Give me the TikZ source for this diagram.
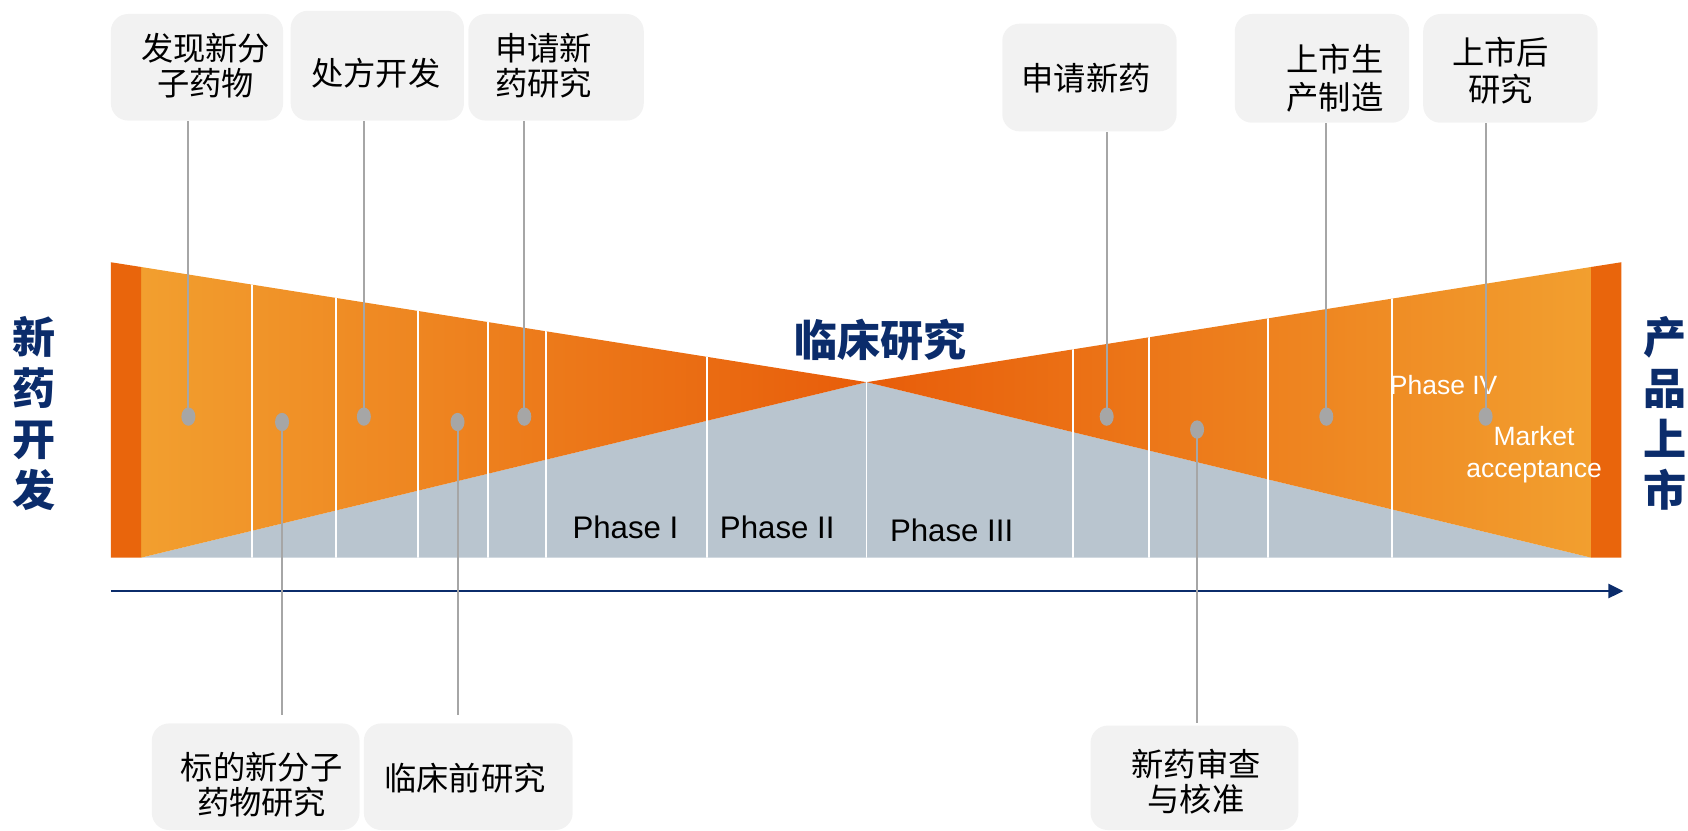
\documentclass[tikz,border=0pt]{standalone}
\usepackage{fontspec}
\setmainfont{Liberation Sans}
\newfontfamily\cjk{Noto Sans CJK SC}
\usetikzlibrary{arrows.meta,shapes.geometric}
\definecolor{boxgray}{HTML}{F2F2F2}
\definecolor{leadergray}{HTML}{A6A6A6}
\definecolor{navy}{HTML}{0B2C6B}
\definecolor{orL}{HTML}{F29F2F}
\definecolor{orM}{HTML}{EF8C20}
\definecolor{orD}{HTML}{E85D0A}
\definecolor{orBar}{HTML}{E9650C}
\definecolor{wedge}{HTML}{B9C5CF}
\tikzset{
  infobox/.style={rounded corners=8pt, fill=boxgray, inner sep=0pt},
  boxtext/.style={align=center, inner sep=0pt, font=\cjk\fontsize{15}{16.5}\selectfont},
  boxtextwide/.style={boxtext, font=\cjk\fontsize{15}{17.5}\selectfont},
  dotmark/.style={ellipse, fill=leadergray, inner sep=0pt, minimum width=6.5pt, minimum height=8.5pt},
  leaderline/.style={draw=leadergray, line width=0.9pt},
  sidelabel/.style={align=center, text=navy, font=\cjk\bfseries\fontsize{20}{23.7}\selectfont},
  phaselabel/.style={font=\fontsize{14.5}{16}\selectfont, text=black},
  whitelabel/.style={font=\fontsize{12.3}{15}\selectfont, text=white, align=center},
  sepline/.style={draw=white, line width=0.8pt},
  timeaxis/.style={draw=navy, line width=1.3pt, -{Triangle[length=7pt,width=6.5pt]}}
}
\begin{document}
\begin{tikzpicture}[x=0.5pt, y=-0.5pt]
\useasboundingbox (0,0) rectangle (1568,771);

% gray wedge
\fill[wedge] (131,518) -- (805,355) -- (1478,518) -- cycle;
% orange wedges
\shade[left color=orL, middle color=orM, right color=orD] (131,248) -- (805,355) -- (131,518) -- cycle;
\shade[left color=orD, middle color=orM, right color=orL] (805,355) -- (1478,248) -- (1478,518) -- cycle;
% dark end bars
\fill[orBar] (103,243.6) -- (131,248) -- (131,518) -- (103,518) -- cycle;
\fill[orBar] (1478,248) -- (1506,243.6) -- (1506,518) -- (1478,518) -- cycle;

% white separators
\begin{scope}
\clip (131,248) -- (805,355) -- (1478,248) -- (1478,518) -- (131,518) -- cycle;
\foreach \x in {234,312,388,453,507,657,805,997,1067,1178,1293}
  \draw[sepline] (\x,230) -- (\x,518);
\end{scope}

% titles
\node[sidelabel] (dev) at (32,384) {新\\药\\开\\发};
\node[sidelabel] (mkt) at (1547,384) {产\\品\\上\\市};
\node[text=navy, font=\cjk\bfseries\fontsize{20}{24}\selectfont] (clin) at (818,316) {临床研究};

% phase labels
\node[phaselabel] (p1) at (581,490) {Phase I};
\node[phaselabel] (p2) at (722,490) {Phase II};
\node[phaselabel] (p3) at (884,493) {Phase III};
\node[whitelabel] (p4) at (1341,358) {Phase IV};
\node[whitelabel] (ma) at (1425,422) {Market\\acceptance};

% time axis
\coordinate (axs) at (103,549);
\coordinate (axe) at (1508,549);
\draw[timeaxis] (axs) -- (axe);

% top boxes
\node[infobox, minimum width=80pt, minimum height=49.5pt] (b1) at (183,62.5) {};
\node[infobox, minimum width=80.5pt, minimum height=51pt] (b2) at (350.5,61) {};
\node[infobox, minimum width=81.5pt, minimum height=49.5pt] (b3) at (516.5,62.5) {};
\node[infobox, minimum width=81pt, minimum height=50pt] (b4) at (1012,72) {};
\node[infobox, minimum width=81pt, minimum height=50.5pt] (b5) at (1228,63.5) {};
\node[infobox, minimum width=81pt, minimum height=50.5pt] (b6) at (1403,63.5) {};
% bottom boxes
\node[infobox, minimum width=96.5pt, minimum height=49.5pt] (b7) at (237.5,721.5) {};
\node[infobox, minimum width=97pt, minimum height=49.5pt] (b8) at (435,721.5) {};
\node[infobox, minimum width=96.5pt, minimum height=48.5pt] (b9) at (1109.5,722.5) {};

% box texts
\node[boxtext] (t1) at (191,61) {发现新分\\子药物};
\node[boxtext] (t2) at (349,68) {处方开发};
\node[boxtext] (t3) at (505,61) {申请新\\药研究};
\node[boxtext] (t4) at (1009,73) {申请新药};
\node[boxtextwide] (t5) at (1240,72.5) {上市生\\产制造};
\node[boxtextwide] (t6) at (1394,65.5) {上市后\\研究};
\node[boxtext] (t7) at (243,729) {标的新分子\\药物研究};
\node[boxtext] (t8) at (432,723) {临床前研究};
\node[boxtext] (t9) at (1111,726) {新药审查\\与核准};

% dots
\node[dotmark] (d1) at (175,387) {};
\node[dotmark] (d2) at (262,392) {};
\node[dotmark] (d3) at (338,387) {};
\node[dotmark] (d4) at (425,392) {};
\node[dotmark] (d5) at (487,387) {};
\node[dotmark] (d6) at (1028,387) {};
\node[dotmark] (d7) at (1112,399) {};
\node[dotmark] (d8) at (1232,387) {};
\node[dotmark] (d9) at (1380,387) {};

% leaders
\draw[leaderline] (b1.south -| d1) -- (d1.center);
\draw[leaderline] (b2.south -| d3) -- (d3.center);
\draw[leaderline] (b3.south -| d5) -- (d5.center);
\draw[leaderline] (b4.south -| d6) -- (d6.center);
\draw[leaderline] (b5.south -| d8) -- (d8.center);
\draw[leaderline] (b6.south -| d9) -- (d9.center);
\draw[leaderline, shorten >=3.5pt] (d2.center) -- (d2 |- b7.north);
\draw[leaderline, shorten >=3.5pt] (d4.center) -- (d4 |- b8.north);
\draw[leaderline, shorten >=1pt] (d7.center) -- (d7 |- b9.north);
\end{tikzpicture}
\end{document}
